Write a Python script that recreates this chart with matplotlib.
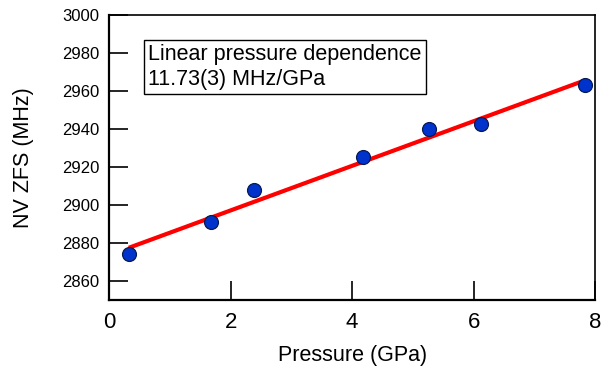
import matplotlib
matplotlib.use("Agg")
import matplotlib.pyplot as plt
import numpy as np

plt.rcParams['font.family'] = ['Liberation Sans', 'DejaVu Sans']

pressure = [0.32, 1.67, 2.38, 4.18, 5.26, 6.13, 7.84]
zfs = [2874.1, 2890.8, 2907.7, 2925.4, 2940.1, 2942.8, 2963.1]
fit_slope = 11.73
fit_intercept = 2873.7
x_ticks = [0, 2, 4, 6, 8]
y_ticks = [2860, 2880, 2900, 2920, 2940, 2960, 2980, 3000]

fig = plt.figure(figsize=(6.12, 3.74), dpi=100)
ax = fig.add_axes([0.1786, 0.1979, 0.7936, 0.762])

xf = np.array([min(pressure), max(pressure)])
ax.plot(xf, fit_intercept + fit_slope * xf, color='#ff0000', lw=3.0, zorder=2,
        solid_capstyle='butt')
ax.plot(pressure, zfs, 'o', ms=10, mfc='#0033cc', mec='#0a1a50', mew=0.9, zorder=3)

ax.set_xlim(0, 8)
ax.set_ylim(2850, 3000)
ax.set_xticks(x_ticks)
ax.set_yticks(y_ticks)
ax.tick_params(axis='both', direction='in', length=14, width=1.2, color='black')
ax.tick_params(axis='x', labelsize=16, pad=9, top=False)
ax.tick_params(axis='y', labelsize=12, pad=7, right=False)
for s in ['left', 'bottom']:
    ax.spines[s].set_linewidth(1.6)
for s in ['top', 'right']:
    ax.spines[s].set_linewidth(1.2)

ax.set_xlabel('Pressure (GPa)', fontsize=15.5, labelpad=8)
ax.set_ylabel('NV ZFS (MHz)', fontsize=15.5, labelpad=20)

ax.text(0.0807, 0.897, 'Linear pressure dependence\n11.73(3) MHz/GPa',
        transform=ax.transAxes, fontsize=15.5, va='top', ha='left',
        linespacing=1.2,
        bbox=dict(boxstyle='square,pad=0.2', fc='white', ec='black', lw=1.0))

fig.savefig('out.png', dpi=100)
